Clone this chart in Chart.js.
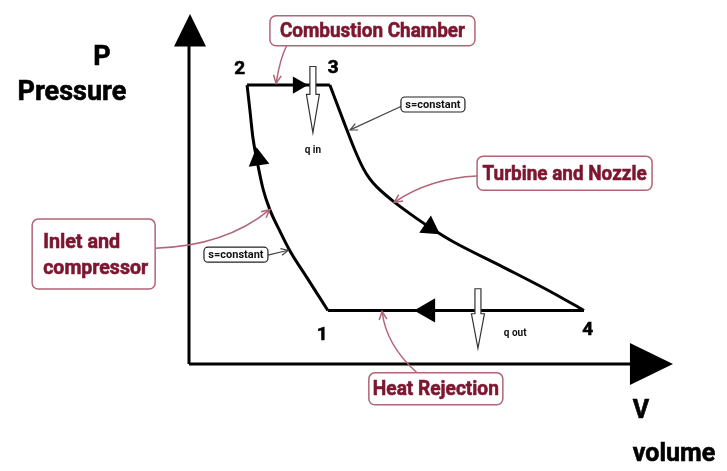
<!DOCTYPE html>
<html>
<head>
<meta charset="utf-8">
<script src="https://cdn.jsdelivr.net/npm/chart.js@4.4.1/dist/chart.umd.min.js"></script>
<style>body{margin:0;background:#fff}</style>
</head>
<body>
<canvas id="c" width="727" height="471"></canvas>
<script>
// estados del ciclo (volumen, presion) en unidades arbitrarias
const stateNames = ['1', '2', '3', '4'];
const stateV = [2.87, 1.20, 2.91, 8.16];
const stateP = [1.53, 7.97, 7.97, 1.53];

// compresion (s=constante), ordenada de 2 a 1 para que el volumen crezca
const compV = [1.20, 1.26, 1.32, 1.40, 1.53, 1.67, 1.88, 2.09, 2.44, 2.87];
const compP = [7.97, 7.23, 6.47, 5.85, 5.00, 4.41, 3.79, 3.22, 2.46, 1.53];
// expansion 3 -> 4 (s=constante)
const expV = [2.91, 3.22, 3.43, 3.60, 3.74, 3.88, 4.21, 4.57, 4.98, 5.45, 6.49, 7.52, 8.16];
const expP = [7.97, 6.84, 6.10, 5.59, 5.28, 5.06, 4.66, 4.29, 3.90, 3.50, 2.77, 2.03, 1.53];

// flechas de sentido sobre el ciclo
const dirV = [1.43, 2.25, 4.98, 4.94];
const dirP = [5.85, 7.97, 3.90, 1.53];
const dirAngle = [-8, 90, 124, -90];
const dirSize = [12, 10, 12, 14];

// etiquetas con recuadro
const boxLabels = ['Combustion Chamber', 'Turbine and Nozzle', 'Inlet and\ncompressor', 'Heat Rejection'];
const boxV = [3.79, 7.76, -1.97, 5.10];
const boxP = [9.52, 5.45, 3.14, -0.71];
// lineas guia (inicio, control, final)
const leadV = [[2.02, 1.88, 1.80], [5.95, 4.98, 4.24], [-0.70, 0.74, 1.67], [4.71, 4.07, 3.99]];
const leadP = [[9.10, 8.73, 8.02], [5.37, 5.31, 4.62], [3.31, 3.36, 4.41], [-0.25, 0.54, 1.50]];

// "s=constant"
const sV = [5.04, 0.97];
const sP = [7.40, 3.11];
const sLeadV = [[4.40, 3.33], [1.63, 2.05]];
const sLeadP = [[7.37, 6.69], [3.11, 3.25]];

// calor entrante / saliente
const heatLabels = ['q in', 'q out'];
const heatV = [2.56, 5.97];
const heatTop = [8.50, 2.15];
const heatTip = [6.61, 0.45];
const heatTextV = [2.56, 6.74];
const heatTextP = [6.10, 0.88];

const red = '#7d1630';
const redLine = '#b06676';

function pts(vs, ps) {
    return vs.map((v, i) => ({ x: v, y: ps[i] }));
}

const lineStyle = { borderColor: '#000', borderWidth: 3, pointRadius: 0, showLine: true, fill: false };

// texto un poco mas grueso
function boldText(ctx, txt, x, y, w) {
    ctx.fillText(txt, x, y, w);
    ctx.strokeText(txt, x, y, w);
}

// dibuja ejes, etiquetas y anotaciones
const diagramPlugin = {
    id: 'diagram',
    afterDatasetsDraw(chart) {
        const ctx = chart.ctx;
        const xs = chart.scales.x, ys = chart.scales.y;
        const X = v => xs.getPixelForValue(v);
        const Y = p => ys.getPixelForValue(p);
        ctx.save();

        // ejes con flecha
        ctx.strokeStyle = '#000';
        ctx.fillStyle = '#000';
        ctx.lineWidth = 3;
        ctx.beginPath();
        ctx.moveTo(X(0), Y(0));
        ctx.lineTo(X(0), Y(9.1));
        ctx.moveTo(X(0), Y(0));
        ctx.lineTo(X(9.15), Y(0));
        ctx.stroke();
        ctx.beginPath();
        ctx.moveTo(X(0) + 1, Y(10));
        ctx.lineTo(X(0) - 15, Y(9.07));
        ctx.lineTo(X(0) + 17, Y(9.07));
        ctx.closePath();
        ctx.fill();
        ctx.beginPath();
        ctx.moveTo(X(10), Y(0));
        ctx.lineTo(X(9.11), Y(0) - 21);
        ctx.lineTo(X(9.11), Y(0) + 21);
        ctx.closePath();
        ctx.fill();

        // titulos de ejes
        ctx.lineWidth = 0.6;
        ctx.textBaseline = 'middle';
        ctx.textAlign = 'center';
        ctx.font = 'bold 27px Roboto';
        boldText(ctx, 'P', X(-1.80), Y(8.73));
        boldText(ctx, 'Pressure', X(-2.42), Y(7.74), 116);
        ctx.font = 'bold 25px Roboto';
        ctx.textAlign = 'left';
        boldText(ctx, 'V', X(9.17), Y(-1.36));
        boldText(ctx, 'volume', X(9.17), Y(-2.58), 94);

        // numeros de los estados
        ctx.textAlign = 'center';
        ctx.font = 'bold 19px Roboto';
        const off = [[-0.12, -0.71], [-0.15, 0.46], [0.07, 0.48], [0.08, -0.57]];
        stateNames.forEach((n, i) => {
            boldText(ctx, n, X(stateV[i] + off[i][0]), Y(stateP[i] + off[i][1]), 12);
        });

        // lineas guia rojas
        ctx.strokeStyle = redLine;
        ctx.lineWidth = 1.5;
        leadV.forEach((lv, i) => {
            const lp = leadP[i];
            ctx.beginPath();
            ctx.moveTo(X(lv[0]), Y(lp[0]));
            ctx.quadraticCurveTo(X(lv[1]), Y(lp[1]), X(lv[2]), Y(lp[2]));
            ctx.stroke();
            arrowHead(ctx, X(lv[1]), Y(lp[1]), X(lv[2]), Y(lp[2]), 9);
        });

        // recuadros
        const boxW = [205, 175, 123, 134];
        const boxH = [30, 34, 70, 32];
        const textW = [185, 164, 105, 126];
        boxLabels.forEach((txt, i) => {
            const cx = X(boxV[i]), cy = Y(boxP[i]);
            ctx.fillStyle = '#fff';
            ctx.strokeStyle = redLine;
            ctx.lineWidth = 1.5;
            ctx.beginPath();
            ctx.roundRect(cx - boxW[i] / 2, cy - boxH[i] / 2, boxW[i], boxH[i], 6);
            ctx.fill();
            ctx.stroke();
            ctx.fillStyle = red;
            ctx.strokeStyle = red;
            ctx.lineWidth = 0.6;
            ctx.font = 'bold 21px Roboto';
            const lines = txt.split('\n');
            if (lines.length === 1) {
                ctx.textAlign = 'center';
                boldText(ctx, txt, cx, cy + 1, textW[i]);
            } else {
                ctx.textAlign = 'left';
                const x0 = cx - boxW[i] / 2 + 11;
                boldText(ctx, lines[0], x0, cy - 11, 77);
                boldText(ctx, lines[1], x0, cy + 15, 105);
            }
        });

        // s=constant
        ctx.strokeStyle = '#444';
        ctx.lineWidth = 1.2;
        sLeadV.forEach((lv, i) => {
            const lp = sLeadP[i];
            ctx.beginPath();
            ctx.moveTo(X(lv[0]), Y(lp[0]));
            ctx.lineTo(X(lv[1]), Y(lp[1]));
            ctx.stroke();
            arrowHead(ctx, X(lv[0]), Y(lp[0]), X(lv[1]), Y(lp[1]), 8);
        });
        sV.forEach((v, i) => {
            const cx = X(v), cy = Y(sP[i]);
            ctx.fillStyle = '#fff';
            ctx.strokeStyle = '#222';
            ctx.lineWidth = 1.2;
            ctx.beginPath();
            ctx.roundRect(cx - 32, cy - 8, 64, 15, 4);
            ctx.fill();
            ctx.stroke();
            ctx.fillStyle = '#111';
            ctx.textAlign = 'center';
            ctx.font = 'bold 11px Roboto';
            ctx.fillText('s=constant', cx, cy, 57);
        });

        // flechas huecas de calor
        heatV.forEach((v, i) => {
            const x = X(v), top = Y(heatTop[i]), tip = Y(heatTip[i]);
            const headTop = top + (tip - top) * 0.42;
            ctx.fillStyle = '#fff';
            ctx.strokeStyle = '#333';
            ctx.lineWidth = 1.2;
            ctx.beginPath();
            ctx.moveTo(x - 3, top);
            ctx.lineTo(x + 3, top);
            ctx.lineTo(x + 3, headTop);
            ctx.lineTo(x + 6.5, headTop);
            ctx.lineTo(x, tip);
            ctx.lineTo(x - 6.5, headTop);
            ctx.lineTo(x - 3, headTop);
            ctx.closePath();
            ctx.fill();
            ctx.stroke();
            ctx.fillStyle = '#111';
            ctx.font = 'bold 10px Roboto';
            ctx.textAlign = 'center';
            ctx.fillText(heatLabels[i], X(heatTextV[i]), Y(heatTextP[i]));
        });

        ctx.restore();
    }
};

function arrowHead(ctx, x1, y1, x2, y2, len) {
    const a = Math.atan2(y2 - y1, x2 - x1);
    ctx.beginPath();
    ctx.moveTo(x2 - len * Math.cos(a - 0.45), y2 - len * Math.sin(a - 0.45));
    ctx.lineTo(x2, y2);
    ctx.lineTo(x2 - len * Math.cos(a + 0.45), y2 - len * Math.sin(a + 0.45));
    ctx.stroke();
}

new Chart(document.getElementById('c'), {
    type: 'scatter',
    data: {
        datasets: [
            Object.assign({ data: pts(compV, compP), cubicInterpolationMode: 'monotone' }, lineStyle),
            Object.assign({ data: pts([stateV[1], stateV[2]], [stateP[1], stateP[2]]) }, lineStyle),
            Object.assign({ data: pts(expV, expP), cubicInterpolationMode: 'monotone' }, lineStyle),
            Object.assign({ data: pts([stateV[3], stateV[0]], [stateP[3], stateP[0]]) }, lineStyle),
            {
                data: pts(dirV, dirP),
                pointStyle: 'triangle',
                rotation: dirAngle,
                pointRadius: dirSize,
                backgroundColor: '#000',
                borderWidth: 0,
                showLine: false
            }
        ]
    },
    options: {
        responsive: false,
        animation: false,
        layout: { padding: { left: 189, right: 54, top: 10, bottom: 107 } },
        scales: {
            x: { type: 'linear', min: 0, max: 10, display: false },
            y: { type: 'linear', min: 0, max: 10, display: false }
        },
        plugins: {
            legend: { display: false },
            tooltip: { enabled: false }
        }
    },
    plugins: [diagramPlugin]
});
</script>
</body>
</html>
